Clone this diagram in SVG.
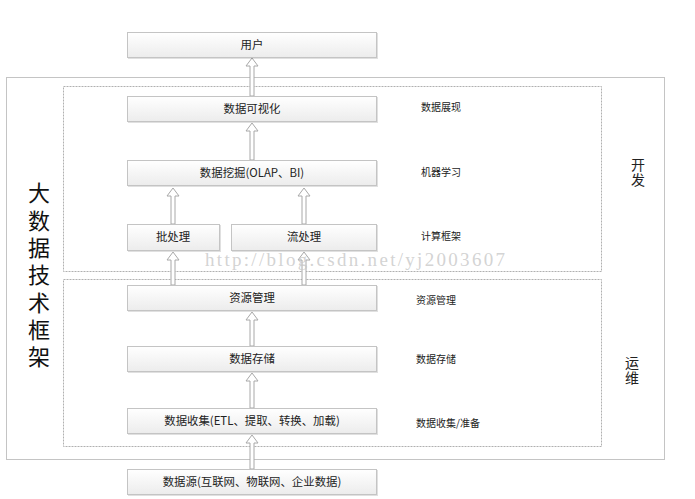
<svg xmlns="http://www.w3.org/2000/svg" width="695" height="499" viewBox="0 0 695 499">
<defs>
<linearGradient id="g" x1="0" y1="0" x2="0" y2="1">
<stop offset="0" stop-color="#ffffff"/>
<stop offset="1" stop-color="#ececec"/>
</linearGradient>
<filter id="sh" x="-5%" y="-20%" width="110%" height="150%">
<feDropShadow dx="1" dy="1" stdDeviation="0.6" flood-color="#000" flood-opacity="0.12"/>
</filter>
</defs>
<style>
.box{fill:url(#g);stroke:#c4c4c4;stroke-width:1;filter:url(#sh)}
.bt{font-family:"Noto Sans CJK SC","Liberation Sans",sans-serif;font-size:11.4px;fill:#222;text-anchor:middle}
.lb{font-family:"Noto Sans CJK SC","Liberation Sans",sans-serif;font-size:10px;fill:#222}
.big{font-family:"Noto Sans CJK SC",sans-serif;font-size:22px;fill:#111;writing-mode:vertical-rl;letter-spacing:5.3px}
.side{font-family:"Noto Sans CJK SC",sans-serif;font-size:14px;fill:#222;writing-mode:vertical-rl;letter-spacing:1px}
.dash{fill:none;stroke:#b0b0b0;stroke-width:1;stroke-dasharray:2 1}
.arr{fill:#fff;stroke:#a8a8a8;stroke-width:1}
.wm{font-family:"Liberation Serif",serif;font-size:19px;fill:#c8c8c8;fill-opacity:0.8}
</style>
<rect x="0" y="0" width="695" height="499" fill="#fff"/>
<g id="frames">
<rect x="6.5" y="77.5" width="658" height="382" fill="none" stroke="#c4c4c4"/>
<rect class="dash" x="63.5" y="86.5" width="538" height="185"/>
<rect class="dash" x="63.5" y="279.5" width="538" height="167"/>
</g>
<g id="title">
<text class="big" x="39" y="182">大数据技术框架</text>
</g>
<g id="side-labels">
<text class="side" x="638" y="158">开发</text>
<text class="side" x="632" y="356">运维</text>
</g>
<g id="layer-labels">
<text class="lb" x="421" y="111">数据展现</text>
<text class="lb" x="421" y="176">机器学习</text>
<text class="lb" x="421" y="240">计算框架</text>
<text class="lb" x="416" y="304">资源管理</text>
<text class="lb" x="416" y="363">数据存储</text>
<text class="lb" x="416" y="427">数据收集/准备</text>
</g>
<g id="connectors">
<path class="arr" d="M252,58 L258,66 L254,66 L254,96 L250,96 L250,66 L246,66 Z"/>
<path class="arr" d="M252,123 L258,131 L254,131 L254,160 L250,160 L250,131 L246,131 Z"/>
<path class="arr" d="M173,188 L179,196 L175,196 L175,224 L171,224 L171,196 L167,196 Z"/>
<path class="arr" d="M304,188 L310,196 L306,196 L306,224 L302,224 L302,196 L298,196 Z"/>
<path class="arr" d="M173,252 L179,260 L175,260 L175,285 L171,285 L171,260 L167,260 Z"/>
<path class="arr" d="M304,252 L310,260 L306,260 L306,285 L302,285 L302,260 L298,260 Z"/>
<path class="arr" d="M252,312 L258,320 L254,320 L254,346 L250,346 L250,320 L246,320 Z"/>
<path class="arr" d="M252,373 L258,381 L254,381 L254,408 L250,408 L250,381 L246,381 Z"/>
<path class="arr" d="M252,435 L258,443 L254,443 L254,469 L250,469 L250,443 L246,443 Z"/>
</g>
<g id="n-user"><rect class="box" x="127.5" y="32.5" width="249" height="25"/><text class="bt" x="252" y="49">用户</text></g>
<g id="n-vis"><rect class="box" x="127.5" y="96.5" width="249" height="25"/><text class="bt" x="252" y="113">数据可视化</text></g>
<g id="n-mining"><rect class="box" x="127.5" y="160.5" width="249" height="25"/><text class="bt" x="252" y="177">数据挖掘(OLAP、BI)</text></g>
<g id="n-batch"><rect class="box" x="127.5" y="224.5" width="92" height="26"/><text class="bt" x="173" y="241">批处理</text></g>
<g id="n-stream"><rect class="box" x="231.5" y="224.5" width="145" height="26"/><text class="bt" x="304" y="241">流处理</text></g>
<g id="n-res"><rect class="box" x="127.5" y="285.5" width="249" height="25"/><text class="bt" x="252" y="302">资源管理</text></g>
<g id="n-store"><rect class="box" x="127.5" y="346.5" width="249" height="25"/><text class="bt" x="252" y="363">数据存储</text></g>
<g id="n-collect"><rect class="box" x="127.5" y="408.5" width="249" height="25"/><text class="bt" x="252" y="425">数据收集(ETL、提取、转换、加载)</text></g>
<g id="n-source"><rect class="box" x="127.5" y="469.5" width="249" height="25"/><text class="bt" x="252" y="486">数据源(互联网、物联网、企业数据)</text></g>
<text class="wm" x="205" y="266" textLength="300" lengthAdjust="spacing">http://blog.csdn.net/yj2003607</text>
</svg>
